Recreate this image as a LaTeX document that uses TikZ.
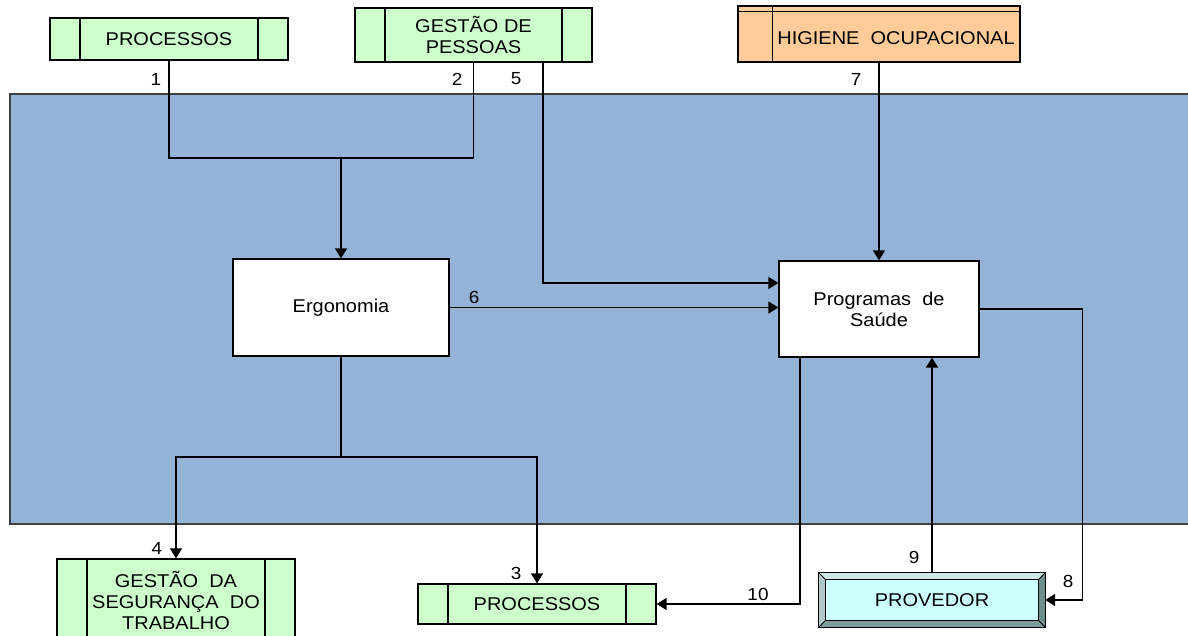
\documentclass[tikz,border=0pt]{standalone}
\usepackage{fontspec}
\setmainfont{Liberation Sans}[FakeStretch=1.08]
\usetikzlibrary{arrows.meta,calc}
\definecolor{panel}{HTML}{95B3D7}
\definecolor{procgreen}{HTML}{CCFFCC}
\definecolor{peach}{HTML}{FFCC99}
\definecolor{provfill}{HTML}{CCFFFF}
\definecolor{bevlight}{HTML}{D3E6E6}
\definecolor{bevmid}{HTML}{AFCACA}
\definecolor{bevdark}{HTML}{6E8E8E}
\definecolor{bevdeep}{HTML}{7F9C9C}
\begin{document}
\begin{tikzpicture}[x=1pt,y=-1pt,
  txt/.style={font=\fontsize{18.5}{21}\selectfont, align=center, text=black},
  num/.style={font=\fontsize{17.5}{19}\selectfont, inner sep=0pt},
  procbox/.style={txt, draw=black, line width=1.3pt, fill=procgreen, inner sep=0pt,
    path picture={
      \draw[line width=1.3pt] ([xshift=#1]path picture bounding box.north west) -- ([xshift=#1]path picture bounding box.south west);
      \draw[line width=1.3pt] ([xshift=-#1]path picture bounding box.north east) -- ([xshift=-#1]path picture bounding box.south east);
    }},
  procbox/.default=30pt,
  whitebox/.style={txt, draw=black, line width=1.3pt, fill=white, inner sep=0pt},
  conn/.style={line width=1.5pt, draw=black},
  arr/.style={conn, -{Triangle[length=10pt,width=12pt]}},
]
\path[use as bounding box] (0,0) rectangle (1188,636);
\clip (0,0) rectangle (1188,636);

% shaded process area, open on the right side
\fill[panel] (10,94) rectangle (1200,524);
\draw[draw=black!75, line width=1.5pt] (1200,94) -- (10,94) -- (10,524) -- (1200,524);

% boxes above the area
\node[procbox, minimum width=238pt, minimum height=42pt] (p1) at (169,39) {PROCESSOS};
\node[procbox, minimum width=237pt, minimum height=54pt] (gp) at (473.5,35) {GESTÃO DE\\PESSOAS};

\node[draw=black, line width=1.3pt, fill=peach, minimum width=282pt, minimum height=56pt, inner sep=0pt] (hig) at (879,34) {};
\draw[line width=1.3pt] ($(hig.north west)+(0,6)$) -- ($(hig.north east)+(0,6)$);
\draw[line width=1.3pt] ($(hig.north west)+(35,0)$) -- ($(hig.south west)+(35,0)$);
\node[txt] (higtxt) at (896,38) {HIGIENE\ \ OCUPACIONAL};

% boxes inside the area
\node[whitebox, minimum width=216pt, minimum height=97pt] (erg) at (341,307.5) {Ergonomia};
\node[whitebox, minimum width=200pt, minimum height=96pt] (prog) at (879,309) {Programas\ \ de\\Saúde};

% boxes below the area
\node[procbox, minimum width=238pt, minimum height=82pt] (gst) at (176,600) {GESTÃO\ \ DA\\SEGURANÇA\ \ DO\\TRABALHO};
\node[procbox, minimum width=238pt, minimum height=40pt] (p2) at (537,604) {PROCESSOS};

% bevelled supplier box
\node[minimum width=226pt, minimum height=54pt, inner sep=0pt] (prov) at (932,600) {};
\coordinate (pNW) at ($(prov.north west)+(7,7)$);
\coordinate (pNE) at ($(prov.north east)+(-7,7)$);
\coordinate (pSE) at ($(prov.south east)+(-7,-7)$);
\coordinate (pSW) at ($(prov.south west)+(7,-7)$);
\fill[bevlight] (prov.north west) -- (prov.north east) -- (pNE) -- (pNW) -- cycle;
\fill[bevmid] (prov.north west) -- (pNW) -- (pSW) -- (prov.south west) -- cycle;
\fill[bevdark] (prov.north east) -- (prov.south east) -- (pSE) -- (pNE) -- cycle;
\fill[bevdeep] (prov.south west) -- (pSW) -- (pSE) -- (prov.south east) -- cycle;
\draw[line width=1pt, fill=provfill] (pNW) rectangle (pSE);
\draw[line width=0.8pt] (prov.north west) -- (pNW) (prov.north east) -- (pNE)
  (prov.south east) -- (pSE) (prov.south west) -- (pSW);
\draw[line width=1.3pt] (prov.north west) rectangle (prov.south east);
\node[txt] (provtxt) at (prov.center) {PROVEDOR};

% connectors
\coordinate (j1) at (341,158);
\coordinate (j2) at (341,457);
\draw[conn] (p1.south) |- (j1);
\draw[conn] (gp.south) |- (j1);
\draw[arr] (j1) -- (erg.north);
\draw[arr] ([xshift=69.5pt]gp.south) |- ([yshift=26pt]prog.west);
\draw[arr] (hig.south) -- (prog.north);
\draw[arr] (erg.east) -- (erg.east -| prog.west);
\draw[conn] (erg.south) -- (j2);
\draw[arr] (j2) -| (gst.north);
\draw[arr] (j2) -| (p2.north);
\draw[arr] ([xshift=-79pt]prog.south) |- (p2.east);
\draw[arr] (prov.north) -- (prov.north |- prog.south);
\draw[arr] (prog.east) -- ++(103,0) |- (prov.east);

% flow numbers
\node[num] (n1) at (156,79) {1};
\node[num] (n2) at (457,79) {2};
\node[num] (n5) at (516,79) {5};
\node[num] (n7) at (856,79) {7};
\node[num] (n6) at (474,297) {6};
\node[num] (n4) at (157,548) {4};
\node[num] (n3) at (516,573) {3};
\node[num] (n10) at (758,594) {10};
\node[num] (n9) at (914,557) {9};
\node[num] (n8) at (1068,581) {8};
\end{tikzpicture}
\end{document}
